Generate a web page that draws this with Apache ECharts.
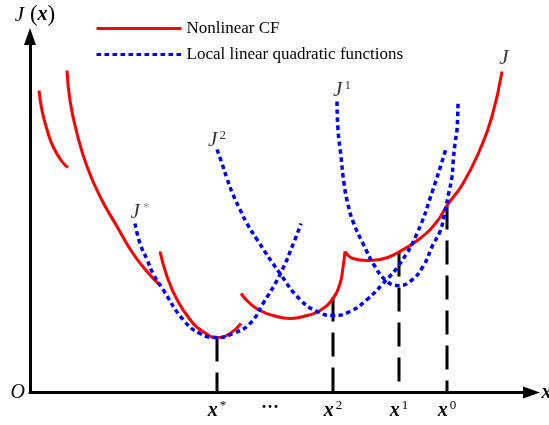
<!DOCTYPE html>
<html>
<head>
<meta charset="utf-8">
<script src="https://cdn.jsdelivr.net/npm/echarts@6/dist/echarts.min.js"></script>
<style>
  html, body { margin: 0; padding: 0; background: #fff; }
  #chart { width: 549px; height: 425px; }
</style>
</head>
<body>
<div id="chart"></div>
<script>
// schematic units: origin O at (0,0)
const redA = [[9, 302], [12, 282], [17, 263], [23, 246], [32, 231], [38, 225]];
const redB = [[37, 322], [40, 292], [47, 259], [57, 226], [70, 196], [87, 166], [103, 139], [117, 121], [130, 107]];
const redC = [[130, 141], [137, 116], [147, 93], [160, 73], [173, 61], [187, 55], [200, 59], [211, 69]];
const redD = [[211, 99], [220, 89], [230, 82], [243, 77], [260, 74], [277, 77], [290, 82], [303, 94], [310, 109], [313, 125], [315, 141]];
const redE = [[315, 141], [323, 134], [337, 132], [350, 133], [368, 140], [390, 154], [407, 171], [417, 187], [433, 209], [450, 243], [462, 276], [472, 321]];

const quadStar = [[105, 169], [110, 149], [117, 133], [123, 119], [133, 103], [153, 73], [170, 59], [187, 55], [203, 59], [220, 69], [233, 89], [250, 118], [265, 153], [271, 169]];
const quad2 = [[187, 243], [192, 229], [197, 214], [203, 198], [210, 183], [217, 169], [227, 153], [250, 119], [270, 93], [287, 81], [303, 77], [320, 81], [337, 93], [353, 109], [370, 129], [387, 159], [403, 203], [416, 244]];
const quad1 = [[307, 291], [308, 263], [311, 236], [314, 209], [318, 188], [323, 171], [333, 149], [345, 126], [357, 111], [368, 107], [380, 111], [393, 126], [403, 148], [410, 161], [415, 181], [418, 196], [422, 216], [423, 229], [425, 249], [427, 263], [428, 291]];

// iterates x*, x2, x1, x0 and the height where each dashed line starts
const iterX = [187, 303, 369, 417];
const iterTop = [55, 95, 140, 187];

const tickValues = [187, 240, 303, 369, 417];
const tickLabels = ['{b|x}{s|*}', '{d|···}', '{b|x}{s|2}', '{b|x}{s|1}', '{b|x}{s|0}'];

const curveLabels = [
  [110, 180, '{j|J}{st|*}'],
  [187, 252, '{j|J}{s|2}'],
  [312, 302, '{j|J}{s|1}'],
  [474, 334, '{j|J}']
];

const serif = 'Liberation Serif';
const RED = '#ff0000';
const BLUE = '#0000ff';

const rich = {
  j: { fontFamily: serif, fontStyle: 'italic', fontSize: 21, color: '#000' },
  b: { fontFamily: serif, fontStyle: 'italic', fontWeight: 'bold', fontSize: 20, color: '#000' },
  s: { fontFamily: serif, fontSize: 13, color: '#000', verticalAlign: 'top', padding: [0, 0, 9, 2] },
  st: { fontFamily: serif, fontSize: 13, color: '#777', verticalAlign: 'top', padding: [0, 0, 9, 3] },
  d: { fontFamily: serif, fontWeight: 'bold', fontSize: 18, color: '#000' },
  p: { fontFamily: serif, fontSize: 23, color: '#000' },
  o: { fontFamily: serif, fontStyle: 'italic', fontSize: 20, color: '#000' }
};

const chart = echarts.init(document.getElementById('chart'));

function redSeries(d) {
  return {
    name: 'Nonlinear CF', type: 'line', data: d, smooth: true, symbol: 'none',
    lineStyle: { color: RED, width: 3 }, itemStyle: { color: RED }, z: 3
  };
}
function blueSeries(d) {
  return {
    name: 'Local linear quadratic functions', type: 'line', data: d, smooth: true, symbol: 'none',
    lineStyle: { color: BLUE, width: 3.5, type: [4.5, 3.5] }, itemStyle: { color: BLUE }, z: 4
  };
}

const series = [
  redSeries(redA), redSeries(redB), redSeries(redC), redSeries(redD), redSeries(redE),
  blueSeries(quadStar), blueSeries(quad2), blueSeries(quad1)
];

iterX.forEach((x, i) => {
  series.push({
    type: 'line', data: [[x, iterTop[i]], [x, 0]], symbol: 'none', silent: true,
    lineStyle: { color: '#000', width: 3, type: [24, 11] }, z: 2
  });
});

series.push({
  type: 'scatter', symbolSize: 1, silent: true,
  itemStyle: { color: 'transparent' },
  data: curveLabels.map(l => [l[0], l[1]]),
  label: {
    show: true, position: 'inside',
    formatter: p => curveLabels[p.dataIndex][2],
    rich: rich
  }
});

chart.setOption({
  animation: false,
  backgroundColor: '#fff',
  grid: { left: 30, bottom: 32.5, top: 36.5, right: 17.5, outerBoundsMode: 'none' },
  legend: {
    data: ['Nonlinear CF', 'Local linear quadratic functions'],
    orient: 'vertical', left: 90, top: 15,
    itemWidth: 85, itemHeight: 14, itemGap: 9,
    itemStyle: { opacity: 0 },
    lineStyle: { width: 3 },
    textStyle: { fontFamily: serif, fontSize: 17, color: '#000' }
  },
  xAxis: {
    type: 'value', min: 0, max: 501.5,
    name: 'x', nameLocation: 'end', nameGap: 10,
    nameTextStyle: { fontFamily: serif, fontStyle: 'italic', fontWeight: 'bold', fontSize: 20, color: '#000', verticalAlign: 'middle' },
    axisLine: { lineStyle: { color: '#000', width: 3 }, symbol: ['none', 'triangle'], symbolSize: [12, 17] },
    axisTick: { show: false },
    splitLine: { show: false },
    axisLabel: {
      customValues: tickValues, margin: 7,
      formatter: v => tickLabels[tickValues.indexOf(v)],
      rich: rich
    }
  },
  yAxis: {
    type: 'value', min: 0, max: 356,
    name: '{j|J}{p| (}{b|x}{p|)}', nameLocation: 'end', nameGap: 10,
    nameTextStyle: { rich: rich, padding: [0, 0, 0, 10] },
    axisLine: { lineStyle: { color: '#000', width: 3 }, symbol: ['none', 'triangle'], symbolSize: [12, 17] },
    axisTick: { show: false },
    splitLine: { show: false },
    axisLabel: {
      customValues: [0], margin: 5,
      formatter: () => '{o|O}',
      rich: rich
    }
  },
  series: series
});
</script>
</body>
</html>
